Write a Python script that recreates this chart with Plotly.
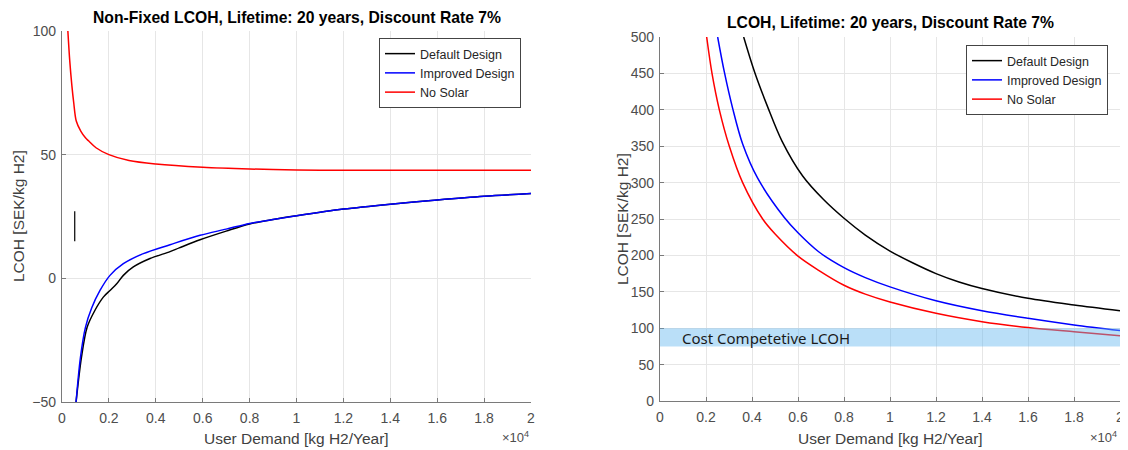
import plotly.graph_objects as go

# ---------------- data ----------------
# Left panel: Non-Fixed LCOH
left_default_x = [600, 829, 1071, 1407, 1762, 2047, 2332, 2616, 3042, 3753, 4607, 5000, 5886, 7000,
                  8000, 9000, 10000, 12000, 14000, 16000, 18000, 20000]
left_default_y = [-50, -32, -19.8, -12.9, -7.6, -4.9, -2.2, 1.2, 4.6, 8.0, 10.8, 12.3, 15.6, 19.1,
                  22.0, 23.8, 25.3, 28.0, 30.0, 31.7, 33.2, 34.3]
left_improved_x = [600, 786, 1000, 1265, 1621, 2047, 2616, 3469, 4607, 5886, 7000, 8000,
                   9000, 10000, 12000, 14000, 16000, 18000, 20000]
left_improved_y = [-50, -32, -19.8, -12.0, -4.9, 1.2, 5.9, 10.0, 13.6, 17.4, 19.9, 22.2,
                   23.8, 25.3, 28.0, 30.0, 31.7, 33.2, 34.3]
left_nosolar_x = [250, 330, 420, 500, 608, 800, 1000, 1143, 1450, 2000, 2857, 4000, 6000, 8000,
                  10000, 12000, 14000, 16000, 18000, 20000]
left_nosolar_y = [100, 88, 78, 71, 63.6, 59.5, 56.8, 55.5, 52.8, 50, 47.6, 46.2, 44.9, 44.2,
                  43.8, 43.7, 43.7, 43.7, 43.7, 43.7]
# stray vertical black segment visible in the left panel
left_stray_x = [543, 543]
left_stray_y = [15.0, 27.1]

# Right panel: LCOH
right_default_x = [3638, 4101, 4681, 5304, 6203, 7100, 8000, 8926, 10000, 11000, 12000, 13000,
                   14000, 16000, 18000, 20000]
right_default_y = [500, 453, 404, 357, 309, 277, 251, 228, 206, 189.5, 175, 163.5,
                   154.5, 141, 131.8, 124]
right_improved_x = [2507, 2797, 3159, 3594, 4246, 5406, 6000, 6898, 8000, 8926, 10000, 12000,
                    14000, 16000, 18000, 20000]
right_improved_y = [500, 452, 402, 353, 306, 252, 231, 205, 183.2, 169.5, 156.8, 137.7,
                    124, 113.6, 104.5, 96.8]
right_nosolar_x = [2029, 2261, 2580, 3014, 3594, 4464, 5015, 6000, 6898, 8000, 8926, 10000, 12000,
                   14000, 16000, 18000, 20000]
right_nosolar_y = [500, 450, 400, 350, 300, 250, 229, 199, 179.5, 159, 146.8, 136.0, 120.5,
                   109, 100.9, 95.0, 89.5]

band_low, band_high = 75, 100
band_label = "Cost Competetive LCOH"

series_names = ["Default Design", "Improved Design", "No Solar"]
series_colors = ["#000000", "#0000ff", "#ff0000"]

x_tickvals = [0, 2000, 4000, 6000, 8000, 10000, 12000, 14000, 16000, 18000, 20000]
x_ticktext = ["0", "0.2", "0.4", "0.6", "0.8", "1", "1.2", "1.4", "1.6", "1.8", "2"]
left_yticks = [-50, 0, 50, 100]
right_yticks = [0, 50, 100, 150, 200, 250, 300, 350, 400, 450, 500]

title_left = "Non-Fixed LCOH, Lifetime: 20 years, Discount Rate 7%"
title_right = "LCOH, Lifetime: 20 years, Discount Rate 7%"
x_title = "User Demand [kg H2/Year]"
y_title = "LCOH [SEK/kg H2]"

# ---------------- figure ----------------
# the page body has an 8px margin, so the figure starts 8px in from the window corner
OFF = 8
FW, FH = 1120, 442
FONT = "Liberation Sans, Arial, sans-serif"


def fx(px):
    return (px - OFF) / FW


def fy(py):
    return 1 - (py - OFF) / FH


fig = go.Figure()

left_data = [(left_default_x, left_default_y), (left_improved_x, left_improved_y),
             (left_nosolar_x, left_nosolar_y)]
right_data = [(right_default_x, right_default_y), (right_improved_x, right_improved_y),
              (right_nosolar_x, right_nosolar_y)]

for (xs, ys), name, col in zip(left_data, series_names, series_colors):
    fig.add_trace(go.Scatter(x=xs, y=ys, mode="lines", name=name,
                             line=dict(color=col, width=1.5, shape="spline", smoothing=0.9),
                             xaxis="x", yaxis="y", legend="legend"))
fig.add_trace(go.Scatter(x=left_stray_x, y=left_stray_y, mode="lines", showlegend=False,
                         line=dict(color="#000000", width=1.2), xaxis="x", yaxis="y"))
for (xs, ys), name, col in zip(right_data, series_names, series_colors):
    fig.add_trace(go.Scatter(x=xs, y=ys, mode="lines", name=name,
                             line=dict(color=col, width=1.5, shape="spline", smoothing=0.9),
                             xaxis="x2", yaxis="y2", legend="legend2"))

lx0, lx1 = fx(62), fx(531)
ly0, ly1 = fy(402), fy(31)
rx0, rx1 = fx(660), fx(1120)
ry0, ry1 = fy(401), fy(37)

axis_common = dict(showgrid=True, gridcolor="#e6e6e6", gridwidth=1, showline=True, linecolor="#7a7a7a",
                   linewidth=1.3, ticks="inside", ticklen=4, tickcolor="#7a7a7a", zeroline=False,
                   tickfont=dict(family=FONT, size=14, color="#4d4d4d"), mirror=False,
                   automargin=False, ticklabeloverflow="allow")

fig.update_layout(
    width=FW, height=FH, margin=dict(l=0, r=0, t=0, b=0, autoexpand=False),
    paper_bgcolor="white", plot_bgcolor="white",
    font=dict(family=FONT, size=12, color="#262626"),
    xaxis=dict(domain=[lx0, lx1], range=[0, 20000], tickvals=x_tickvals, ticktext=x_ticktext,
               anchor="y", ticklabelstandoff=3, **axis_common),
    yaxis=dict(domain=[ly0, ly1], range=[-50, 100], tickvals=left_yticks, anchor="x",
               ticklabelstandoff=2, **axis_common),
    xaxis2=dict(domain=[rx0, rx1], range=[0, 20000], tickvals=x_tickvals, ticktext=x_ticktext,
                anchor="y2", ticklabelstandoff=3, **axis_common),
    yaxis2=dict(domain=[ry0, ry1], range=[0, 500], tickvals=right_yticks, anchor="x2",
                ticklabelstandoff=2, **axis_common),
    legend=dict(x=fx(521), y=fy(38), xanchor="right", yanchor="top", bgcolor="white",
                bordercolor="#444444", borderwidth=1, font=dict(family=FONT, size=12.5, color="#262626"),
                tracegroupgap=0, itemwidth=30),
    legend2=dict(x=fx(1108), y=fy(45), xanchor="right", yanchor="top", bgcolor="white",
                 bordercolor="#444444", borderwidth=1, font=dict(family=FONT, size=12.5, color="#262626"),
                 tracegroupgap=0, itemwidth=30),
    showlegend=True,
)

# cost-competitive band (semi-transparent, drawn above the lines)
fig.add_shape(type="rect", xref="x2", yref="y2", x0=0, x1=20000, y0=band_low, y1=band_high,
              fillcolor="rgba(102,185,240,0.45)", line=dict(width=0), layer="above")

ann = []
ann.append(dict(text=f"<b>{title_left}</b>", x=(lx0 + lx1) / 2, y=fy(17), xref="paper", yref="paper",
                showarrow=False, font=dict(family=FONT, size=15.7, color="#000000"),
                xanchor="center", yanchor="middle"))
ann.append(dict(text=f"<b>{title_right}</b>", x=(rx0 + rx1) / 2, y=fy(22), xref="paper", yref="paper",
                showarrow=False, font=dict(family=FONT, size=15.7, color="#000000"),
                xanchor="center", yanchor="middle"))
for cx in [(lx0 + lx1) / 2, (rx0 + rx1) / 2]:
    ann.append(dict(text=x_title, x=cx, y=fy(438), xref="paper", yref="paper", showarrow=False,
                    font=dict(family=FONT, size=15.5, color="#404040"), xanchor="center", yanchor="middle"))
for xpix, ycen in [(18, 216), (622, 219)]:
    ann.append(dict(text=y_title, x=fx(xpix), y=fy(ycen), xref="paper", yref="paper", showarrow=False,
                    textangle=-90, font=dict(family=FONT, size=15.5, color="#404040"),
                    xanchor="center", yanchor="middle"))
for xpix in [531, 1119]:
    ann.append(dict(text="×10<sup>4</sup>", x=fx(xpix), y=fy(437), xref="paper", yref="paper",
                    showarrow=False, font=dict(family=FONT, size=13, color="#4d4d4d"),
                    xanchor="right", yanchor="middle"))
ann.append(dict(text=band_label, x=870, y=86, xref="x2", yref="y2", showarrow=False,
                xanchor="left", yanchor="middle",
                font=dict(family="Noto Sans, sans-serif", size=15, color="#1a1a1a")))
fig.update_layout(annotations=ann)

fig.write_html("out.html")
